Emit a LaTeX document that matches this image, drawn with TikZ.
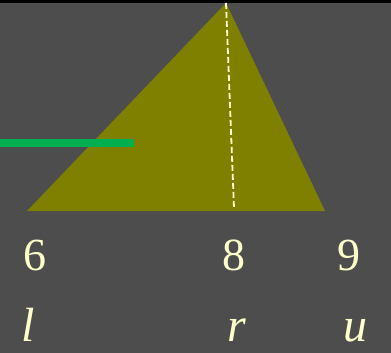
\documentclass[tikz,border=0pt]{standalone}
\usepackage{fontspec}
\setmainfont{Liberation Serif}
\usepackage{xcolor}
\definecolor{bggray}{RGB}{77, 77, 77}
\definecolor{olivefill}{RGB}{128, 128, 0}
\definecolor{barGreen}{RGB}{0, 176, 80}
\definecolor{paleyellow}{RGB}{255, 255, 204}
\usetikzlibrary{positioning}

\begin{document}
\begin{tikzpicture}[x=1pt, y=-1pt,
        lab/.style={text=paleyellow, inner sep=0pt, anchor=base, font=\fontsize{46}{50}\selectfont},
        varlab/.style={lab, font=\fontsize{48}{52}\selectfont\itshape},
        bar/.style={draw=barGreen, line width=8pt},
        split/.style={draw=paleyellow, line width=1.8pt, dash pattern=on 6pt off 3pt}]

        % background and top strip
        \fill [bggray] (0,0) rectangle (391,353);
        \fill [black] (0,0) rectangle (391,3);
        \useasboundingbox (0,0) rectangle (391,353);

        % triangle
        \coordinate (lo) at (27,211);
        \coordinate (top) at (226,3);
        \coordinate (hi) at (325,211);
        \fill [olivefill] (lo) -- (top) -- (hi) -- cycle;

        \coordinate (bar0) at (0,143);
        \coordinate (bar1) at (134,143);
        \path [bar] (bar0) -- (bar1);

        \coordinate (foot) at (234,208);
        \path [split] (top) -- (foot);

        % numbers and names
        \node [lab] (six) at (35,270) {6};
        \node [lab] (eight) at (234,270) {8};
        \node [lab] (nine) at (349,270) {9};
        \node [varlab] (l) at (28,341) {l};
        \node [varlab] (r) at (237,341) {r};
        \node [varlab] (u) at (355,341) {u};
\end{tikzpicture}
\end{document}
